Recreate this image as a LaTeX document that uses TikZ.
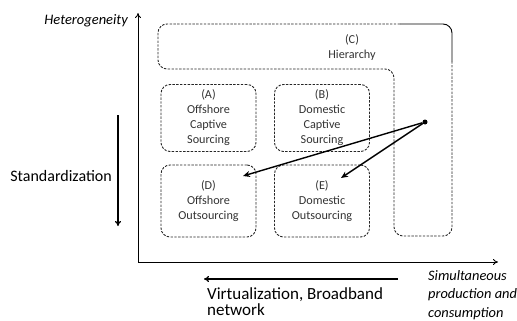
\documentclass[tikz,border=0pt]{standalone}
\usepackage{fontspec}
\setmainfont{Carlito}
\usetikzlibrary{arrows.meta}
\begin{document}
\begin{tikzpicture}[x=1pt,y=-1pt,
  dsh/.style={dashed,dash pattern=on 2.4pt off 1.4pt,line width=0.9pt,draw=black!85},
  box/.style={draw,dsh,rounded corners=9pt,minimum width=95pt,minimum height=67pt,align=center,font=\fontsize{12.2}{15}\selectfont,text=black!80,inner sep=0pt},
  axis/.style={line width=0.8pt,-{To[length=5pt,width=6pt]}},
  conn/.style={line width=1.4pt,-{Stealth[length=7pt,width=6pt]}},
  lbl/.style={inner sep=0pt,align=left}]
\useasboundingbox (0,0) rectangle (517,321);
\clip (0,0) rectangle (517,321);
% axes
\coordinate (o) at (138,262);
\coordinate (ytop) at (138,13);
\coordinate (xend) at (498,262);
\draw[axis] (o) -- (ytop);
\draw[axis] (o) -- (xend);
\node[lbl,font=\fontsize{14.5}{17}\itshape,anchor=east] (het) at (128,21) {Heterogeneity};
% hierarchy (C)
\draw[dsh,rounded corners=9pt]
  (400,24) -- (158,24) -- (158,69) -- (394,69) -- (394,236) -- (452,236) -- (452,62);
\draw[line width=0.9pt,rounded corners=9pt] (452,62) -- (452,24) -- (400,24);
\node[align=center,font=\fontsize{12.2}{15}\selectfont,text=black!80,inner sep=0pt] (C) at (352,48) {(C)\\Hierarchy};
% boxes
\node[box] (A) at (208.5,118) {(A)\\Offshore\\Captive\\Sourcing};
\node[box] (B) at (322,118) {(B)\\Domestic\\Captive\\Sourcing};
\node[box,minimum height=72pt] (D) at (208.5,201) {(D)\\Offshore\\Outsourcing};
\node[box,minimum height=72pt] (E) at (322,201) {(E)\\Domestic\\Outsourcing};
% dot and connectors
\node[circle,fill=black,inner sep=0pt,minimum size=5pt] (dot) at (425,122) {};
\coordinate (dtip) at (243,176);
\coordinate (etip) at (341,178);
\draw[conn] (dot) -- (dtip);
\draw[conn] (dot) -- (etip);
% standardization
\coordinate (s1) at (118,115);
\coordinate (s2) at (118,226);
\draw[line width=1.3pt,-{To[length=5pt,width=6pt]}] (s1) -- (s2);
\node[lbl,font=\fontsize{16}{19}\selectfont,anchor=east] (std) at (112,176) {Standardization};
% virtualization
\coordinate (v1) at (398,279);
\coordinate (v2) at (204,279);
\draw[line width=1.3pt,-{To[length=5pt,width=6pt]}] (v1) -- (v2);
\node[lbl,font=\fontsize{17}{16.5}\selectfont,anchor=north west] (virt) at (207,287) {Virtualization, Broadband\\network};
\node[lbl,font=\fontsize{14.4}{18.5}\itshape,anchor=north west] (sim) at (428,270) {Simultaneous\\production and\\consumption};
\end{tikzpicture}
\end{document}
